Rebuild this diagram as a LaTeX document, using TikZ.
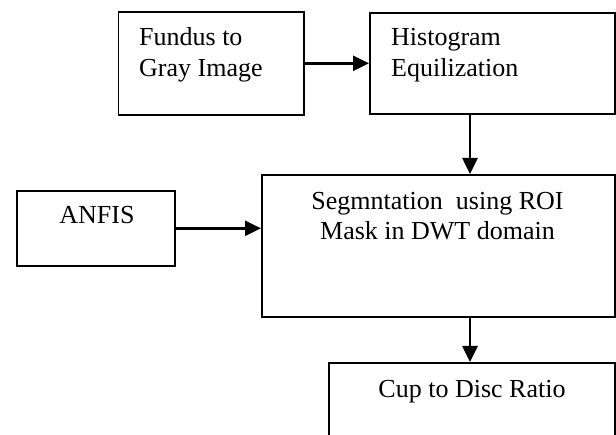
\documentclass[tikz,border=0pt]{standalone}
\usepackage{fontspec}
\setmainfont{Liberation Serif}
\usetikzlibrary{arrows.meta}
\begin{document}
\begin{tikzpicture}[x=1pt,y=-1pt,
  box/.style={draw=black,line width=1.6pt,inner sep=0pt,anchor=north west},
  txt/.style={inner sep=0pt,font=\fontsize{26}{30}\selectfont},
  arr/.style={line width=2.6pt,-{Triangle[length=16pt,width=15pt]}}]
\useasboundingbox (0,0) rectangle (616,435);
\clip (0,0) rectangle (616,435);
\fill[white] (0,0) rectangle (616,435);
% boxes
\node[box,minimum width=185.5pt,minimum height=103pt] (b1) at (117.5,11) {};
\node[box,minimum width=245pt,minimum height=101pt] (b2) at (369,12) {};
\node[box,minimum width=353pt,minimum height=142pt] (b3) at (261,174) {};
\node[box,minimum width=158pt,minimum height=75pt] (b4) at (16,190) {};
\node[box,minimum width=286pt,minimum height=90pt] (b5) at (328,362) {};
% texts
\node[txt,anchor=base west] (t1a) at (139,45.5) {Fundus to};
\node[txt,anchor=base west] (t1b) at (139,77) {Gray Image};
\node[txt,anchor=base west] (t2a) at (391,46) {Histogram};
\node[txt,anchor=base west] (t2b) at (391,77) {Equilization};
\node[txt,anchor=base] (t3a) at (437.5,210) {Segmntation\ \ using ROI};
\node[txt,anchor=base] (t3b) at (437.5,240) {Mask in DWT domain};
\node[txt,anchor=base] (t4) at (97,224) {ANFIS};
\node[txt,anchor=base] (t5) at (472,398) {Cup to Disc Ratio};
% connectors
\coordinate (p2) at (470,0);
\draw[arr] (b1.east) -- (b2.west);
\draw[arr] (b2.south -| p2) -- (b3.north -| p2);
\draw[arr] (b4.east) -- (b4.east -| b3.west);
\draw[arr] (b3.south -| p2) -- (b5.north -| p2);
\end{tikzpicture}
\end{document}
